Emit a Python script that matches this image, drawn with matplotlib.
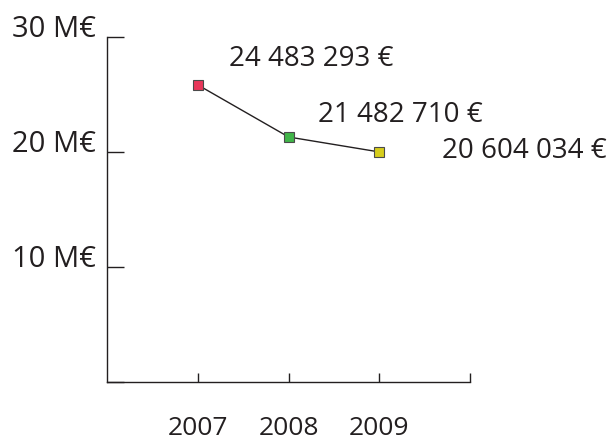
import matplotlib
matplotlib.use("Agg")
import matplotlib.pyplot as plt

years = [2007, 2008, 2009]
values_m = [25.85, 21.33, 20.03]          # plotted positions (M€) as drawn
value_labels = ["24 483 293 €", "21 482 710 €", "20 604 034 €"]
marker_colors = ["#e8375a", "#41b549", "#d6cd1c"]
yticks = [0, 10, 20, 30]
ytick_labels = ["", "10 M€", "20 M€", "30 M€"]
xticks = [2007, 2008, 2009, 2010]
xtick_labels = ["2007", "2008", "2009", ""]

INK = "#231f20"
plt.rcParams["font.family"] = ["Open Sans", "DejaVu Sans"]

fig = plt.figure(figsize=(6.10, 4.42), dpi=100)
ax = fig.add_axes([107.3 / 610, 1 - 382.3 / 442, (470 - 107.3) / 610, (382.3 - 37.3) / 442])
ax.set_xlim(2006, 2010)
ax.set_ylim(0, 30)

for s in ["top", "right"]:
    ax.spines[s].set_visible(False)
for s in ["left", "bottom"]:
    ax.spines[s].set_color(INK)
    ax.spines[s].set_linewidth(1.0)

ax.plot(years, values_m, color=INK, lw=1.0, zorder=2, clip_on=False)
for x, y, c in zip(years, values_m, marker_colors):
    ax.plot([x], [y], marker="s", ms=7.8, mfc=c, mec="#4a4a4a", mew=0.8,
            ls="none", zorder=3, clip_on=False)

label_offsets = [(31, 19), (29, 15), (63, -6)]
for x, y, t, (dx, dy) in zip(years, values_m, value_labels, label_offsets):
    ax.annotate(t, xy=(x, y), xytext=(dx, dy), textcoords="offset pixels",
                ha="left", va="baseline", fontsize=20, color=INK)

ax.set_yticks(yticks)
ax.set_yticklabels(ytick_labels)
ax.set_xticks(xticks)
ax.set_xticklabels(xtick_labels)
ax.tick_params(axis="y", direction="in", length=12.2, width=1.0, color=INK,
               pad=7.9, labelsize=21, labelcolor=INK)
ax.tick_params(axis="x", direction="in", length=6.5, width=1.0, color=INK,
               pad=37.6, labelsize=19, labelcolor=INK)
for lab in ax.get_yticklabels():
    lab.set_verticalalignment("baseline")
for lab in ax.get_xticklabels():
    lab.set_verticalalignment("baseline")

fig.savefig("out.png", dpi=100)
